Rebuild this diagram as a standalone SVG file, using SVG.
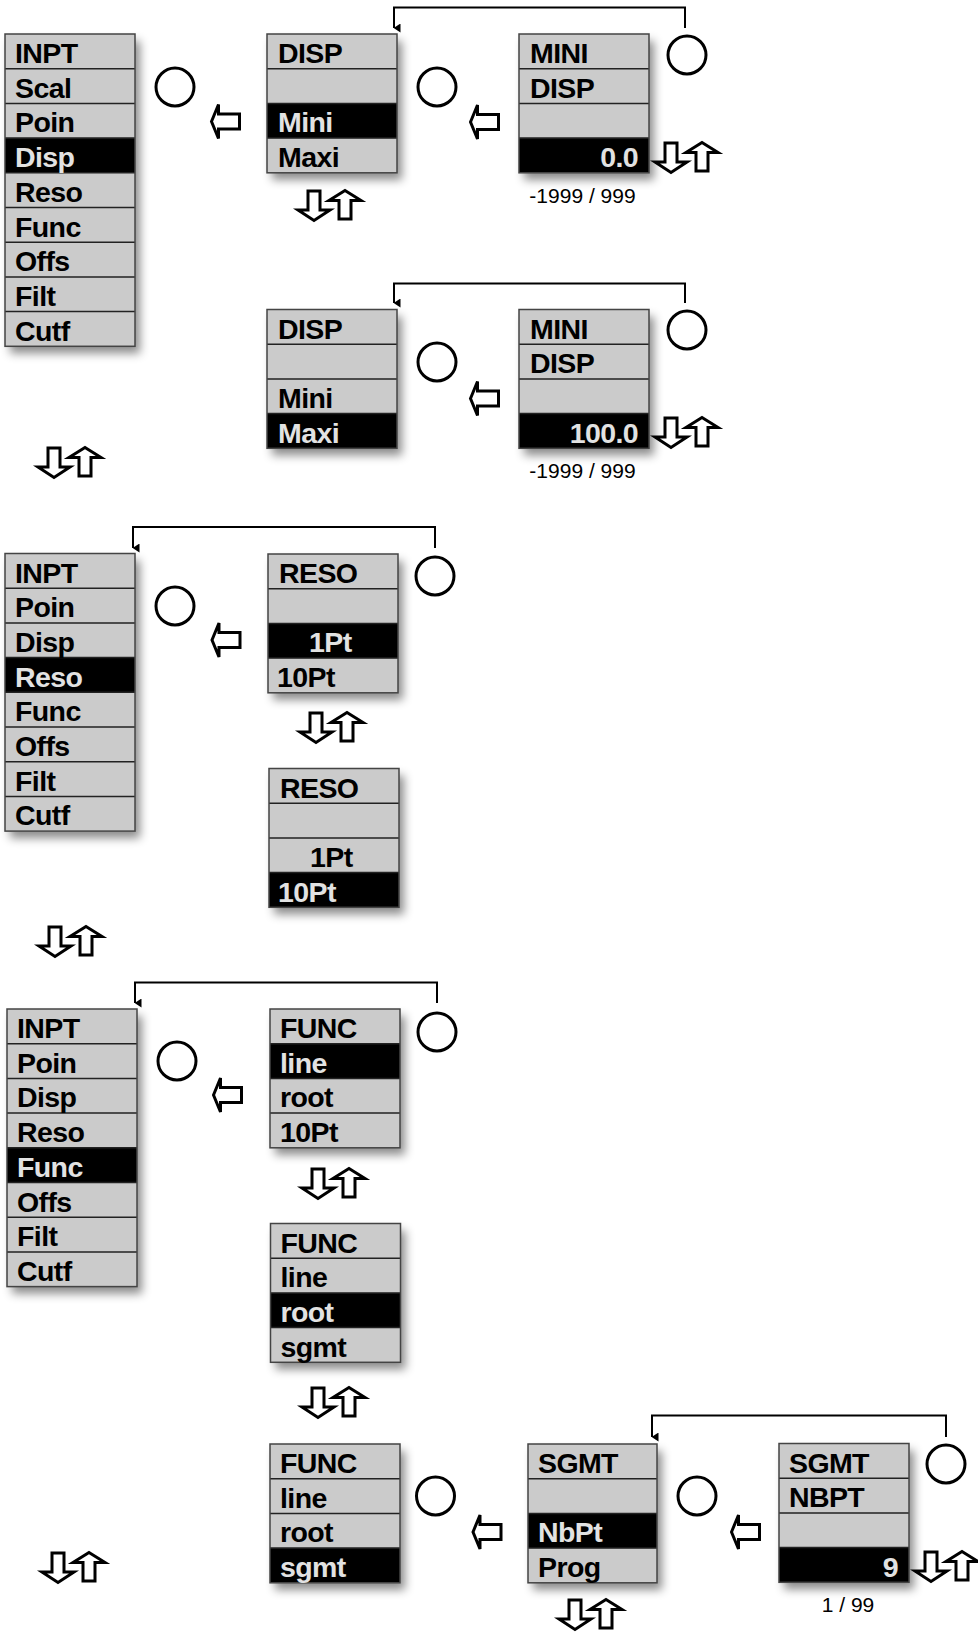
<svg xmlns="http://www.w3.org/2000/svg" xmlns:xlink="http://www.w3.org/1999/xlink" width="978" height="1633" viewBox="0 0 978 1633">
<defs>
<style>
.bg{fill:#cbcbcb;filter:url(#sh)}
.hl{fill:#000}
.sep{stroke:#222;stroke-width:1.5;fill:none}
.bd{fill:none;stroke:#444;stroke-width:1.5}
.t{font-family:"Liberation Sans",Arial,sans-serif;font-weight:bold;font-size:28.5px;letter-spacing:-0.6px;fill:#000}
.w{fill:#e2e2e2}
.r{text-anchor:end}
.n{font-family:"Liberation Sans",Arial,sans-serif;font-size:21px;fill:#000;text-anchor:middle}
.c{fill:#fff;stroke:#000;stroke-width:3}
.la{fill:#fff;stroke:#000;stroke-width:3;stroke-linejoin:miter}
.br{fill:none;stroke:#000;stroke-width:2}
</style>
<filter id="sh" x="-20%" y="-20%" width="150%" height="150%">
<feDropShadow dx="5" dy="7" stdDeviation="5" flood-color="#000" flood-opacity="0.45"/>
</filter>
<marker id="ah" markerWidth="9" markerHeight="7" refX="4.5" refY="6.5" orient="auto-start-reverse" markerUnits="userSpaceOnUse" viewBox="0 0 9 7">
<path d="M0,0 L9,0 L4.5,7 Z" fill="#000"/>
</marker>
<g id="ud">
<path class="la" d="M-6,0 H6 V19 H16 L0,29.5 L-16,19 H-6 Z"/>
<path class="la" d="M31,-0.5 L47,9.5 H37 V28 H25 V9.5 H15 Z"/>
</g>
<path id="lt" class="la" d="M0,0 L7,-17 V-7.5 H28 V7.5 H7 V17 Z"/>
<circle id="ci" class="c" r="19"/>
</defs>
<rect width="978" height="1633" fill="#fff"/>

<g id="connectors">
<path class="br" d="M685,28 V7.5 H394 V28" marker-end="url(#ah)"/>
<path class="br" d="M685,303 V283.5 H394 V303" marker-end="url(#ah)"/>
<path class="br" d="M435,548 V527 H133 V548" marker-end="url(#ah)"/>
<path class="br" d="M437,1003 V982.5 H135 V1003" marker-end="url(#ah)"/>
<path class="br" d="M946,1437 V1415.5 H652 V1437" marker-end="url(#ah)"/>
</g>

<g id="inpt1" transform="translate(5,34)">
<rect class="bg" width="130" height="312.3"/>
<rect class="hl" y="104.1" width="130" height="34.7"/>
<path class="sep" d="M0,34.7H130M0,69.4H130M0,104.1H130M0,138.8H130M0,173.5H130M0,208.2H130M0,242.9H130M0,277.6H130"/>
<rect class="bd" width="130" height="312.3"/>
<text class="t" x="10" y="29">INPT</text>
<text class="t" x="10" y="63.7">Scal</text>
<text class="t" x="10" y="98.4">Poin</text>
<text class="t w" x="10" y="133.1">Disp</text>
<text class="t" x="10" y="167.8">Reso</text>
<text class="t" x="10" y="202.5">Func</text>
<text class="t" x="10" y="237.2">Offs</text>
<text class="t" x="10" y="271.9">Filt</text>
<text class="t" x="10" y="306.6">Cutf</text>
</g>

<g id="disp1" transform="translate(267,34)">
<rect class="bg" width="130" height="138.8"/>
<rect class="hl" y="69.4" width="130" height="34.7"/>
<path class="sep" d="M0,34.7H130M0,69.4H130M0,104.1H130"/>
<rect class="bd" width="130" height="138.8"/>
<text class="t" x="11" y="29">DISP</text>
<text class="t w" x="11" y="98.4">Mini</text>
<text class="t" x="11" y="133.1">Maxi</text>
</g>

<g id="mini1" transform="translate(519,34)">
<rect class="bg" width="130" height="138.8"/>
<rect class="hl" y="104.1" width="130" height="34.7"/>
<path class="sep" d="M0,34.7H130M0,69.4H130M0,104.1H130"/>
<rect class="bd" width="130" height="138.8"/>
<text class="t" x="11" y="29">MINI</text>
<text class="t" x="11" y="63.7">DISP</text>
<text class="t w r" x="119" y="133.1">0.0</text>
</g>

<g id="disp2" transform="translate(267,309.5)">
<rect class="bg" width="130" height="138.8"/>
<rect class="hl" y="104.1" width="130" height="34.7"/>
<path class="sep" d="M0,34.7H130M0,69.4H130M0,104.1H130"/>
<rect class="bd" width="130" height="138.8"/>
<text class="t" x="11" y="29">DISP</text>
<text class="t" x="11" y="98.4">Mini</text>
<text class="t w" x="11" y="133.1">Maxi</text>
</g>

<g id="mini2" transform="translate(519,309.5)">
<rect class="bg" width="130" height="138.8"/>
<rect class="hl" y="104.1" width="130" height="34.7"/>
<path class="sep" d="M0,34.7H130M0,69.4H130M0,104.1H130"/>
<rect class="bd" width="130" height="138.8"/>
<text class="t" x="11" y="29">MINI</text>
<text class="t" x="11" y="63.7">DISP</text>
<text class="t w r" x="119" y="133.1">100.0</text>
</g>

<g id="inpt2" transform="translate(5,553.5)">
<rect class="bg" width="130" height="277.6"/>
<rect class="hl" y="104.1" width="130" height="34.7"/>
<path class="sep" d="M0,34.7H130M0,69.4H130M0,104.1H130M0,138.8H130M0,173.5H130M0,208.2H130M0,242.9H130"/>
<rect class="bd" width="130" height="277.6"/>
<text class="t" x="10" y="29">INPT</text>
<text class="t" x="10" y="63.7">Poin</text>
<text class="t" x="10" y="98.4">Disp</text>
<text class="t w" x="10" y="133.1">Reso</text>
<text class="t" x="10" y="167.8">Func</text>
<text class="t" x="10" y="202.5">Offs</text>
<text class="t" x="10" y="237.2">Filt</text>
<text class="t" x="10" y="271.9">Cutf</text>
</g>

<g id="reso1" transform="translate(268,554)">
<rect class="bg" width="130" height="138.8"/>
<rect class="hl" y="69.4" width="130" height="34.7"/>
<path class="sep" d="M0,34.7H130M0,69.4H130M0,104.1H130"/>
<rect class="bd" width="130" height="138.8"/>
<text class="t" x="11" y="29">RESO</text>
<text class="t w" x="41" y="98.4">1Pt</text>
<text class="t" x="9" y="133.1">10Pt</text>
</g>

<g id="reso2" transform="translate(269,768.5)">
<rect class="bg" width="130" height="138.8"/>
<rect class="hl" y="104.1" width="130" height="34.7"/>
<path class="sep" d="M0,34.7H130M0,69.4H130M0,104.1H130"/>
<rect class="bd" width="130" height="138.8"/>
<text class="t" x="11" y="29">RESO</text>
<text class="t" x="41" y="98.4">1Pt</text>
<text class="t w" x="9" y="133.1">10Pt</text>
</g>

<g id="inpt3" transform="translate(7,1009)">
<rect class="bg" width="130" height="277.6"/>
<rect class="hl" y="138.8" width="130" height="34.7"/>
<path class="sep" d="M0,34.7H130M0,69.4H130M0,104.1H130M0,138.8H130M0,173.5H130M0,208.2H130M0,242.9H130"/>
<rect class="bd" width="130" height="277.6"/>
<text class="t" x="10" y="29">INPT</text>
<text class="t" x="10" y="63.7">Poin</text>
<text class="t" x="10" y="98.4">Disp</text>
<text class="t" x="10" y="133.1">Reso</text>
<text class="t w" x="10" y="167.8">Func</text>
<text class="t" x="10" y="202.5">Offs</text>
<text class="t" x="10" y="237.2">Filt</text>
<text class="t" x="10" y="271.9">Cutf</text>
</g>

<g id="func1" transform="translate(270,1009)">
<rect class="bg" width="130" height="138.8"/>
<rect class="hl" y="34.7" width="130" height="34.7"/>
<path class="sep" d="M0,34.7H130M0,69.4H130M0,104.1H130"/>
<rect class="bd" width="130" height="138.8"/>
<text class="t" x="10" y="29">FUNC</text>
<text class="t w" x="10" y="63.7">line</text>
<text class="t" x="10" y="98.4">root</text>
<text class="t" x="10" y="133.1">10Pt</text>
</g>

<g id="func2" transform="translate(270.5,1223.5)">
<rect class="bg" width="130" height="138.8"/>
<rect class="hl" y="69.4" width="130" height="34.7"/>
<path class="sep" d="M0,34.7H130M0,69.4H130M0,104.1H130"/>
<rect class="bd" width="130" height="138.8"/>
<text class="t" x="10" y="29">FUNC</text>
<text class="t" x="10" y="63.7">line</text>
<text class="t w" x="10" y="98.4">root</text>
<text class="t" x="10" y="133.1">sgmt</text>
</g>

<g id="func3" transform="translate(270,1444)">
<rect class="bg" width="130" height="138.8"/>
<rect class="hl" y="104.1" width="130" height="34.7"/>
<path class="sep" d="M0,34.7H130M0,69.4H130M0,104.1H130"/>
<rect class="bd" width="130" height="138.8"/>
<text class="t" x="10" y="29">FUNC</text>
<text class="t" x="10" y="63.7">line</text>
<text class="t" x="10" y="98.4">root</text>
<text class="t w" x="10" y="133.1">sgmt</text>
</g>

<g id="sgmt1" transform="translate(528,1444)">
<rect class="bg" width="129" height="138.8"/>
<rect class="hl" y="69.4" width="129" height="34.7"/>
<path class="sep" d="M0,34.7H129M0,69.4H129M0,104.1H129"/>
<rect class="bd" width="129" height="138.8"/>
<text class="t" x="10" y="29">SGMT</text>
<text class="t w" x="10" y="98.4">NbPt</text>
<text class="t" x="10" y="133.1">Prog</text>
</g>

<g id="sgmt2" transform="translate(779,1443.5)">
<rect class="bg" width="130" height="138.8"/>
<rect class="hl" y="104.1" width="130" height="34.7"/>
<path class="sep" d="M0,34.7H130M0,69.4H130M0,104.1H130"/>
<rect class="bd" width="130" height="138.8"/>
<text class="t" x="10" y="29">SGMT</text>
<text class="t" x="10" y="63.7">NBPT</text>
<text class="t w r" x="119" y="133.1">9</text>
</g>

<g id="circles">
<use href="#ci" x="175" y="87"/>
<use href="#ci" x="437" y="87"/>
<use href="#ci" x="687" y="55"/>
<use href="#ci" x="437" y="362"/>
<use href="#ci" x="687" y="330"/>
<use href="#ci" x="175" y="606"/>
<use href="#ci" x="435" y="576"/>
<use href="#ci" x="177" y="1061"/>
<use href="#ci" x="437" y="1032"/>
<use href="#ci" x="435.5" y="1496"/>
<use href="#ci" x="697" y="1496"/>
<use href="#ci" x="946" y="1464"/>
</g>

<g id="left-arrows">
<use href="#lt" x="211.5" y="121.5"/>
<use href="#lt" x="470.5" y="122"/>
<use href="#lt" x="470.5" y="398.5"/>
<use href="#lt" x="212" y="640"/>
<use href="#lt" x="213.5" y="1095"/>
<use href="#lt" x="473" y="1532"/>
<use href="#lt" x="731.5" y="1532"/>
</g>

<g id="updown">
<use href="#ud" x="314" y="191"/>
<use href="#ud" x="671" y="143"/>
<use href="#ud" x="671" y="418"/>
<use href="#ud" x="54" y="448"/>
<use href="#ud" x="316" y="713"/>
<use href="#ud" x="55" y="927"/>
<use href="#ud" x="318" y="1169"/>
<use href="#ud" x="318" y="1388"/>
<use href="#ud" x="58" y="1553"/>
<use href="#ud" x="575" y="1600"/>
<use href="#ud" x="931" y="1552"/>
</g>

<g id="ranges">
<text class="n" x="582.5" y="203">-1999 / 999</text>
<text class="n" x="582.5" y="478">-1999 / 999</text>
<text class="n" x="848" y="1612">1 / 99</text>
</g>
</svg>
